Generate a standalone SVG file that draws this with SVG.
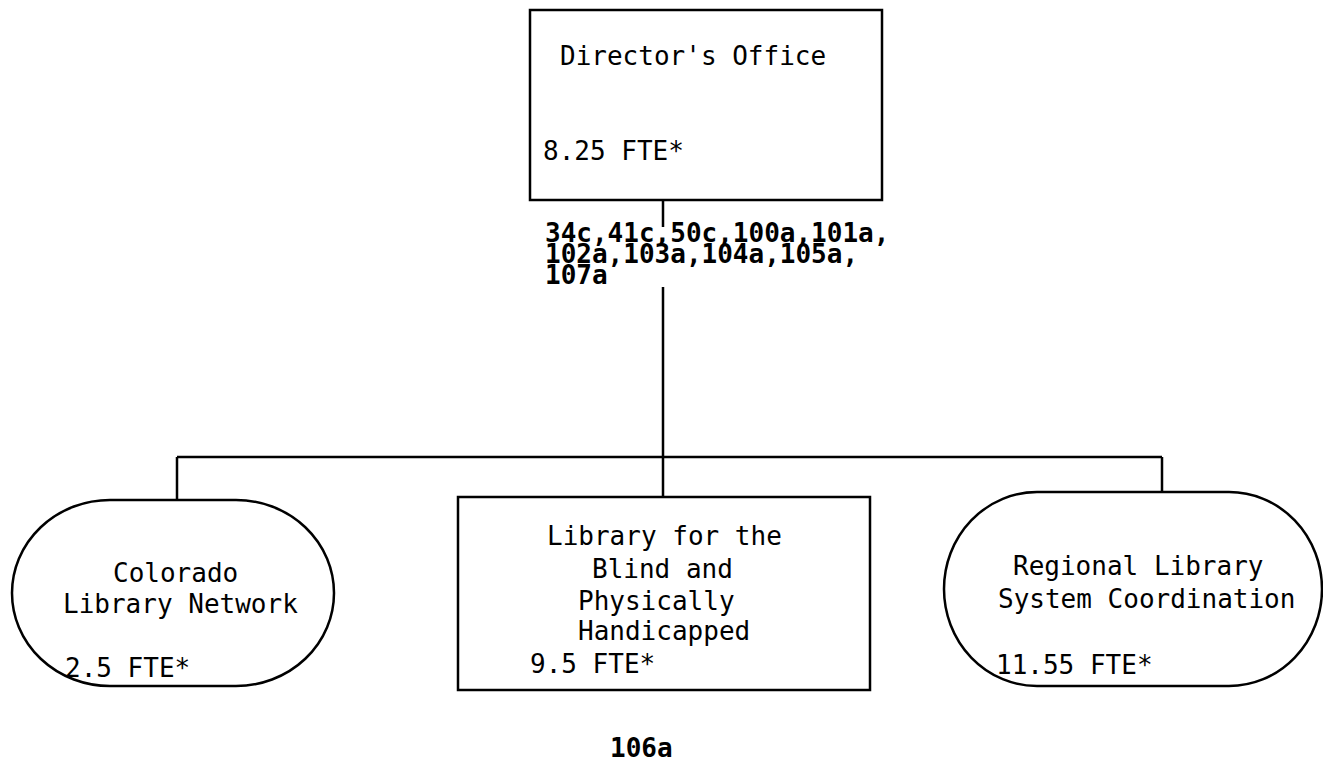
<svg xmlns="http://www.w3.org/2000/svg" width="1323" height="765" viewBox="0 0 1323 765">
<style>
.n{fill:none;stroke:#000;stroke-width:2.5}
.c{fill:none;stroke:#000;stroke-width:2.5}
text{font-family:"DejaVu Sans Mono","Liberation Mono",monospace;font-size:26px;fill:#000}
.b{font-weight:bold}
</style>
<rect width="1323" height="765" fill="#fff"/>
<g id="connectors">
<path class="c" d="M663,200V227M663,287V457M177,457H1162M177,457V500M663,457V497M1162,457V492"/>
</g>
<g id="director">
<rect class="n" x="530" y="10" width="352" height="190"/>
<text x="560" y="65">Director's Office</text>
<text x="543" y="160">8.25 FTE*</text>
</g>
<g id="codes">
<text class="b" x="545" y="242">34c,41c,50c,100a,101a,<tspan x="545" dy="21">102a,103a,104a,105a,</tspan><tspan x="545" dy="21">107a</tspan></text>
</g>
<g id="cln">
<rect class="n" x="12" y="500" width="322" height="186" rx="98" ry="93"/>
<text x="113" y="582">Colorado</text>
<text x="63" y="613">Library Network</text>
<text x="65" y="677">2.5 FTE*</text>
</g>
<g id="lbph">
<rect class="n" x="458" y="497" width="412" height="193"/>
<text x="547" y="545">Library for the</text>
<text x="592" y="578">Blind and</text>
<text x="578" y="610">Physically</text>
<text x="578" y="640">Handicapped</text>
<text x="530" y="673">9.5 FTE*</text>
</g>
<g id="rlsc">
<rect class="n" x="944" y="492" width="378" height="194" rx="93" ry="97"/>
<text x="1013" y="575">Regional Library</text>
<text x="998" y="608">System Coordination</text>
<text x="996" y="674">11.55 FTE*</text>
</g>
<g id="page">
<text class="b" x="610" y="757">106a</text>
</g>
</svg>
